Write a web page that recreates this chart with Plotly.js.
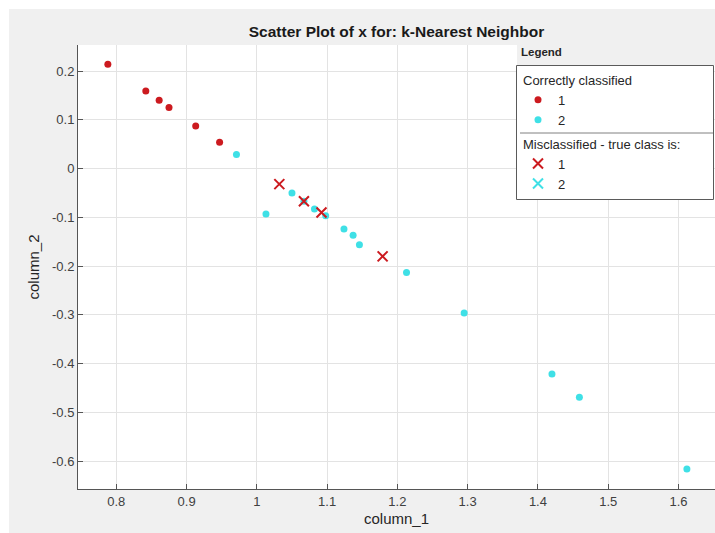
<!DOCTYPE html>
<html>
<head>
<meta charset="utf-8">
<script src="https://cdn.plot.ly/plotly-3.0.1.min.js"></script>
<style>html,body{margin:0;padding:0;background:#fff;}#chart{width:715px;height:533px;}</style>
</head>
<body>
<div id="chart"></div>
<script>
// Correctly classified, class 1
const correct1X = [0.788, 0.842, 0.861, 0.875, 0.913, 0.947];
const correct1Y = [0.214, 0.159, 0.140, 0.125, 0.087, 0.054];
// Correctly classified, class 2
const correct2X = [0.971, 1.013, 1.050, 1.067, 1.082, 1.098, 1.124, 1.137, 1.146, 1.213, 1.295, 1.420, 1.459, 1.612];
const correct2Y = [0.029, -0.093, -0.050, -0.067, -0.083, -0.097, -0.124, -0.137, -0.156, -0.213, -0.296, -0.421, -0.469, -0.616];
// Misclassified, true class 1
const mis1X = [1.032, 1.067, 1.092, 1.179];
const mis1Y = [-0.032, -0.067, -0.090, -0.180];
// Misclassified, true class 2
const mis2X = [];
const mis2Y = [];

const xTicks = [0.8, 0.9, 1, 1.1, 1.2, 1.3, 1.4, 1.5, 1.6];
const yTicks = [0.2, 0.1, 0, -0.1, -0.2, -0.3, -0.4, -0.5, -0.6];

const RED = '#cc1a1f';
const CYAN = '#3fe0e6';

const traces = [
  {x: correct1X, y: correct1Y, type: 'scatter', mode: 'markers', name: '1',
   legendgroup: 'c', legendgrouptitle: {text: 'Correctly classified'},
   marker: {color: RED, size: 7}},
  {x: correct2X, y: correct2Y, type: 'scatter', mode: 'markers', name: '2',
   legendgroup: 'c', marker: {color: CYAN, size: 7}},
  {x: mis1X, y: mis1Y, type: 'scatter', mode: 'markers', name: '1',
   legendgroup: 'm', legendgrouptitle: {text: 'Misclassified - true class is:&nbsp;&nbsp;&nbsp;&nbsp;&nbsp;&nbsp;'},
   marker: {symbol: 'x-thin', size: 10, color: RED, line: {color: RED, width: 2}}},
  {x: mis2X.length ? mis2X : [null], y: mis2Y.length ? mis2Y : [null], type: 'scatter', mode: 'markers', name: '2',
   legendgroup: 'm', marker: {symbol: 'x-thin', size: 10, color: CYAN, line: {color: CYAN, width: 2}}}
];

const L = 78, R = 715, T = 45, B = 489;
const px2x = p => (p - L) / (R - L);
const py2y = p => (B - p) / (B - T);

const layout = {
  width: 715, height: 533,
  margin: {l: L, r: 715 - R, t: T, b: 533 - B, pad: 0},
  paper_bgcolor: '#f0f0f0',
  plot_bgcolor: '#ffffff',
  font: {family: 'Liberation Sans, Arial, sans-serif', color: '#262626', size: 13},
  title: {text: '<b>Scatter Plot of x for: k-Nearest Neighbor</b>',
          font: {size: 15.5, color: '#1a1a1a'}, xref: 'paper', x: 0.5, xanchor: 'center',
          yref: 'container', y: 1 - 32 / 533, yanchor: 'middle'},
  xaxis: {range: [0.7455, 1.652], tickvals: xTicks, ticktext: xTicks.map(String),
          ticks: 'inside', ticklen: 5, tickcolor: '#555', showline: true, linecolor: '#555', linewidth: 1,
          showgrid: true, gridcolor: '#e3e3e3', zeroline: false, mirror: false,
          tickfont: {size: 13, color: '#404040'},
          title: {text: 'column_1', font: {size: 15, color: '#262626'}, standoff: 5}},
  yaxis: {range: [-0.657, 0.2533], tickvals: yTicks, ticktext: yTicks.map(String),
          ticks: 'inside', ticklen: 5, tickcolor: '#555', showline: true, linecolor: '#555', linewidth: 1,
          showgrid: true, gridcolor: '#e3e3e3', zeroline: false,
          tickfont: {size: 13, color: '#404040'},
          title: {text: 'column_2', font: {size: 15, color: '#262626'}, standoff: 8}},
  showlegend: true,
  legend: {x: px2x(713), xanchor: 'right', y: py2y(65), yanchor: 'top',
           bgcolor: 'rgba(0,0,0,0)', borderwidth: 0,
           font: {size: 13, color: '#262626'}, grouptitlefont: {size: 13, color: '#262626'},
           traceorder: 'grouped', tracegroupgap: 4},
  shapes: [
    {type: 'rect', xref: 'paper', yref: 'paper', x0: px2x(517), x1: 1.0, y0: py2y(65), y1: 1.0,
     fillcolor: '#f0f0f0', line: {width: 0}, layer: 'above'},
    {type: 'rect', xref: 'paper', yref: 'paper', x0: px2x(516.5), x1: px2x(713.5), y0: py2y(199.5), y1: py2y(65.5),
     fillcolor: '#ffffff', line: {width: 1, color: '#5a5a5a'}, layer: 'above'},
    {type: 'line', xref: 'paper', yref: 'paper', x0: px2x(520), x1: px2x(713), y0: py2y(133), y1: py2y(133),
     line: {color: '#808080', width: 1}, layer: 'above'},
    {type: 'rect', xref: 'paper', yref: 'paper', x0: px2x(0), x1: px2x(9), y0: py2y(533), y1: py2y(0),
     fillcolor: '#ffffff', line: {width: 0}, layer: 'above'},
    {type: 'rect', xref: 'paper', yref: 'paper', x0: px2x(0), x1: px2x(715), y0: py2y(9), y1: py2y(0),
     fillcolor: '#ffffff', line: {width: 0}, layer: 'above'}
  ],
  annotations: [
    {text: '<b>Legend</b>', xref: 'paper', yref: 'paper', x: px2x(519), y: py2y(52),
     xanchor: 'left', yanchor: 'middle', showarrow: false, font: {size: 11.5, color: '#262626'}}
  ]
};

Plotly.newPlot('chart', traces, layout, {displayModeBar: false, staticPlot: true});
</script>
</body>
</html>
